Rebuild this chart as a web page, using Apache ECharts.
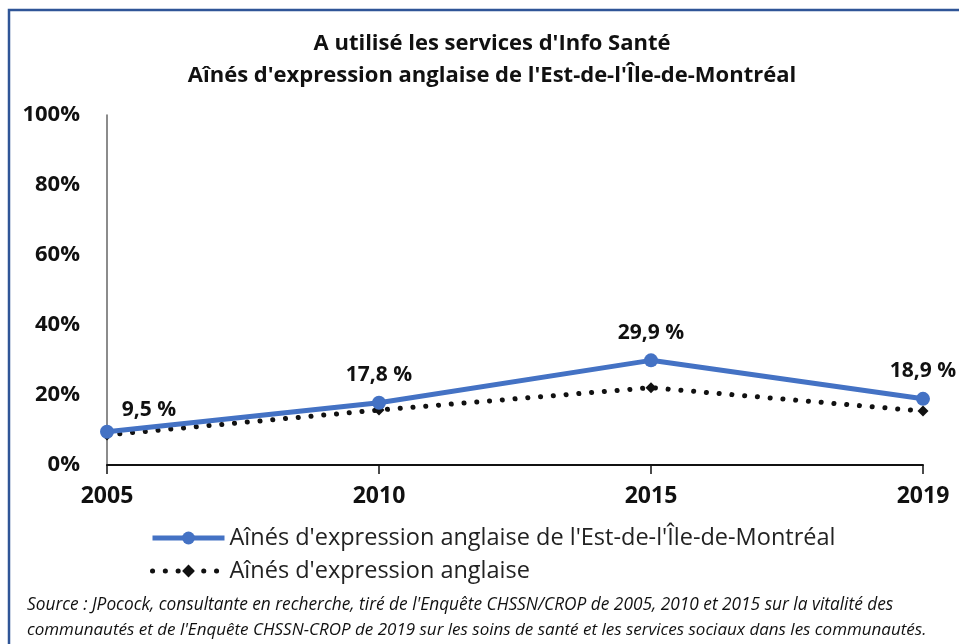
<!DOCTYPE html>
<html>
<head>
<meta charset="utf-8">
<script src="https://cdn.jsdelivr.net/npm/echarts@6/dist/echarts.min.js"></script>
<style>
  html, body { margin: 0; padding: 0; background: #fff; }
  #chart { width: 959px; height: 644px; }
</style>
</head>
<body>
<div id="chart"></div>
<script>
var years = ['2005', '2010', '2015', '2019'];
var estMontreal = [9.5, 17.8, 29.9, 18.9];
var anglophones = [8.6, 15.7, 22.1, 15.4];
var yTicks = [0, 20, 40, 60, 80, 100];

var seriesNames = [
  "Aînés d'expression anglaise de l'Est-de-l'Île-de-Montréal",
  "Aînés d'expression anglaise"
];
var titleLines = [
  "A utilisé les services d'Info Santé",
  "Aînés d'expression anglaise de l'Est-de-l'Île-de-Montréal"
];
var sourceLines = [
  "Source : JPocock, consultante en recherche, tiré de l'Enquête CHSSN/CROP de 2005, 2010 et 2015 sur la vitalité des",
  "communautés et de l'Enquête CHSSN-CROP de 2019 sur les soins de santé et les services sociaux dans les communautés."
];

var FONT = '"Open Sans", Lato, sans-serif';
var BLUE = '#4472C4';

function pct(v) {
  return String(v).replace('.', ',') + ' %';
}

var myChart = echarts.init(document.getElementById('chart'));

var option = {
  animation: false,
  textStyle: { fontFamily: FONT },
  title: {
    text: titleLines.join('\n'),
    left: 487,
    textAlign: 'center',
    top: 23,
    textStyle: { fontSize: 22, fontWeight: 'bold', color: '#111', lineHeight: 32, fontFamily: FONT }
  },
  grid: { left: 107, right: 36, top: 115, bottom: 179 },
  xAxis: {
    type: 'category',
    data: years,
    boundaryGap: false,
    axisLine: { lineStyle: { color: '#111', width: 2 } },
    axisTick: { show: true, length: 9, lineStyle: { color: '#111', width: 1.5 } },
    axisLabel: { margin: 20, fontSize: 23, fontWeight: 'bold', color: '#111', fontFamily: FONT }
  },
  yAxis: {
    type: 'value',
    min: yTicks[0],
    max: yTicks[yTicks.length - 1],
    interval: yTicks[1] - yTicks[0],
    axisLine: { show: true, lineStyle: { color: '#666', width: 1.5 } },
    axisTick: { show: false },
    splitLine: { show: false },
    axisLabel: { margin: 27, fontSize: 22, fontWeight: 'bold', color: '#111', formatter: '{value}%', fontFamily: FONT }
  },
  legend: {
    orient: 'vertical',
    left: 145,
    top: 521,
    itemWidth: 72,
    itemHeight: 16,
    itemGap: 9,
    textStyle: { fontSize: 23.5, color: '#222', fontFamily: FONT },
    data: [
      { name: seriesNames[0], lineStyle: { width: 5, color: BLUE }, itemStyle: { color: BLUE } },
      { name: seriesNames[1], lineStyle: { width: 5, color: '#111' }, itemStyle: { color: '#111' } }
    ]
  },
  series: [
    {
      name: seriesNames[1],
      type: 'line',
      data: anglophones,
      symbol: 'diamond',
      symbolSize: 11,
      itemStyle: { color: '#111' },
      lineStyle: { color: '#111', width: 5, type: [0.1, 12.7], cap: 'round' },
      z: 2
    },
    {
      name: seriesNames[0],
      type: 'line',
      data: estMontreal,
      symbol: 'circle',
      symbolSize: 14,
      itemStyle: { color: BLUE },
      lineStyle: { color: BLUE, width: 5 },
      z: 3,
      label: {
        show: true,
        position: 'top',
        distance: 10,
        fontSize: 21,
        fontWeight: 'bold',
        color: '#111',
        fontFamily: FONT,
        formatter: function (p) { return pct(p.value); }
      },
      labelLayout: function (params) {
        if (params.dataIndex === 0) {
          return { dx: 42, dy: 6 };
        }
        return {};
      }
    }
  ],
  graphic: [
    {
      type: 'rect',
      shape: { x: 9, y: 10, width: 1000, height: 700 },
      style: { fill: 'none', stroke: '#2F5597', lineWidth: 2.5 },
      silent: true
    },
    {
      type: 'text',
      left: 27,
      top: 597,
      style: { text: sourceLines[0], font: 'italic 17.3px ' + FONT, fill: '#111' }
    },
    {
      type: 'text',
      left: 27,
      top: 622,
      style: { text: sourceLines[1], font: 'italic 17px ' + FONT, fill: '#111' }
    }
  ]
};

myChart.setOption(option);
</script>
</body>
</html>
